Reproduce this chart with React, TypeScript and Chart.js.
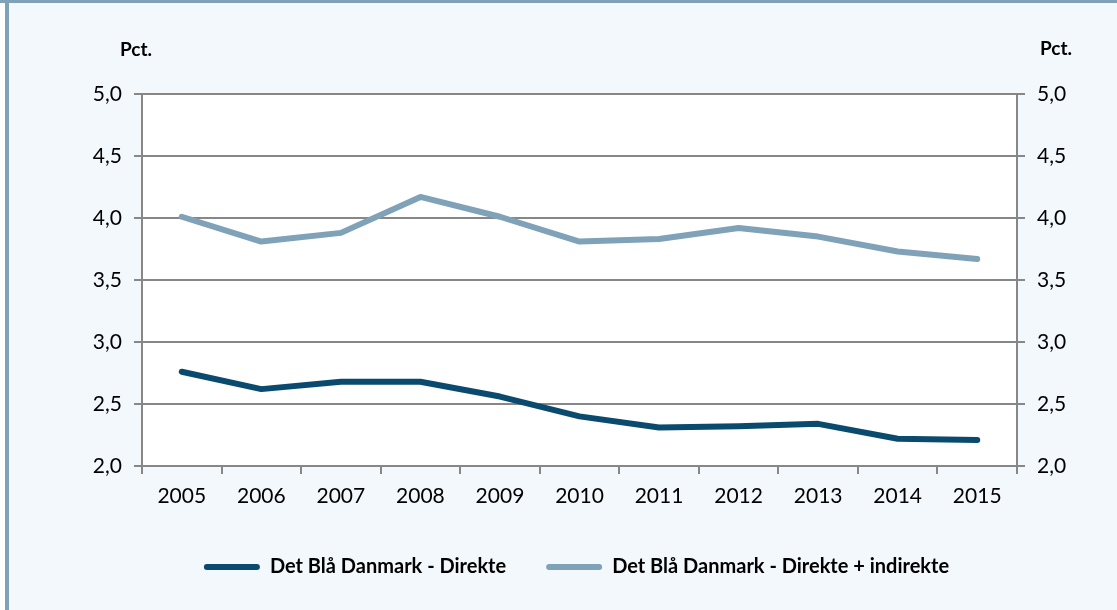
import React, { useEffect, useRef } from "react";
import { Chart, registerables } from "chart.js";

Chart.register(...registerables);

const years = ["2005", "2006", "2007", "2008", "2009", "2010", "2011", "2012", "2013", "2014", "2015"];
const direkte = [2.76, 2.62, 2.68, 2.68, 2.56, 2.4, 2.31, 2.32, 2.34, 2.22, 2.21];
const direkteIndirekte = [4.01, 3.81, 3.88, 4.17, 4.01, 3.81, 3.83, 3.92, 3.85, 3.73, 3.67];
const seriesNames = ["Det Blå Danmark - Direkte", "Det Blå Danmark - Direkte + indirekte"];
const unitLabel = "Pct.";

const DARK = "#0a4a6f";
const LIGHT = "#7fa2b9";
const GRID = "#878787";
const BG = "#f3f8fc";
const FONT = "Lato, 'Open Sans', sans-serif";

const fmt = (v: any) => Number(v).toFixed(1).replace(".", ",");

export default function App() {
  const ref = useRef<HTMLCanvasElement | null>(null);

  useEffect(() => {
    document.body.style.margin = "0";
    const canvas = ref.current;
    if (!canvas) return;

    const plotBg = {
      id: "plotBg",
      beforeDraw(chart: any) {
        const { ctx, chartArea } = chart;
        ctx.save();
        ctx.fillStyle = "#ffffff";
        ctx.fillRect(chartArea.left, chartArea.top, chartArea.right - chartArea.left, chartArea.bottom - chartArea.top);
        ctx.restore();
      },
      afterDraw(chart: any) {
        const { ctx } = chart;
        ctx.save();
        ctx.fillStyle = "#000";
        ctx.font = `bold 19px ${FONT}`;
        ctx.textAlign = "center";
        ctx.textBaseline = "middle";
        ctx.fillText(unitLabel, 136, 50);
        ctx.fillText(unitLabel, 1056, 49);
        ctx.restore();
      },
    };

    const tickFont = { family: FONT, size: 21 };

    const chart = new Chart(canvas, {
      type: "line",
      data: {
        labels: years,
        datasets: [
          {
            label: seriesNames[0],
            data: direkte,
            borderColor: DARK,
            backgroundColor: DARK,
            borderWidth: 6,
            pointRadius: 0,
            tension: 0,
            borderCapStyle: "round",
            borderJoinStyle: "round",
            yAxisID: "y",
          },
          {
            label: seriesNames[1],
            data: direkteIndirekte,
            borderColor: LIGHT,
            backgroundColor: LIGHT,
            borderWidth: 6,
            pointRadius: 0,
            tension: 0,
            borderCapStyle: "round",
            borderJoinStyle: "round",
            yAxisID: "y",
          },
        ],
      },
      plugins: [plotBg],
      options: {
        animation: false,
        responsive: false,
        maintainAspectRatio: false,
        layout: { padding: { top: 94, left: 36, right: 0, bottom: 23 } },
        plugins: {
          tooltip: { enabled: false },
          legend: {
            position: "bottom",
            labels: {
              color: "#000",
              font: { family: FONT, size: 20, weight: "bold" },
              boxWidth: 56,
              boxHeight: 6,
              padding: 40,
              useBorderRadius: true,
              borderRadius: 3,
              generateLabels: (c: any) =>
                c.data.datasets.map((ds: any, i: number) => ({
                  text: ds.label,
                  fillStyle: ds.borderColor,
                  strokeStyle: ds.borderColor,
                  lineWidth: 0,
                  hidden: false,
                  datasetIndex: i,
                  borderRadius: 3,
                })),
            },
          },
        },
        scales: {
          x: {
            offset: true,
            grid: {
              display: true,
              drawOnChartArea: false,
              drawTicks: true,
              tickLength: 8,
              color: GRID,
              lineWidth: 2,
              offset: true,
            },
            border: { display: true, color: GRID, width: 2 },
            ticks: { color: "#000", font: tickFont, padding: 10, maxRotation: 0 },
            afterFit: (s: any) => {
              s.height = 51;
            },
          },
          y: {
            position: "left",
            min: 2,
            max: 5,
            ticks: { stepSize: 0.5, callback: fmt, color: "#000", font: tickFont, padding: 12 },
            grid: { color: GRID, lineWidth: 2, tickLength: 8, drawTicks: true },
            border: { display: true, color: GRID, width: 2 },
            afterFit: (s: any) => {
              s.width = 106;
            },
          },
          y1: {
            position: "right",
            min: 2,
            max: 5,
            ticks: { stepSize: 0.5, callback: fmt, color: "#000", font: tickFont, padding: 12 },
            grid: { drawOnChartArea: false, color: GRID, lineWidth: 2, tickLength: 8, drawTicks: true },
            border: { display: true, color: GRID, width: 2 },
            afterFit: (s: any) => {
              s.width = 100;
            },
          },
        },
      },
    } as any);

    return () => chart.destroy();
  }, []);

  return (
    <div style={{ position: "absolute", left: 0, top: 0, width: 1117, height: 610, background: "#ffffff", overflow: "hidden" }}>
      <div style={{ position: "absolute", left: 9, top: 3, right: 0, bottom: 0, background: BG }} />
      <div style={{ position: "absolute", left: 0, top: 0, width: 1117, height: 3, background: LIGHT }} />
      <div style={{ position: "absolute", left: 5, top: 3, width: 4, bottom: 0, background: LIGHT }} />
      <canvas ref={ref} width={1117} height={610} style={{ position: "absolute", left: 0, top: 0, width: 1117, height: 610 }} />
    </div>
  );
}
